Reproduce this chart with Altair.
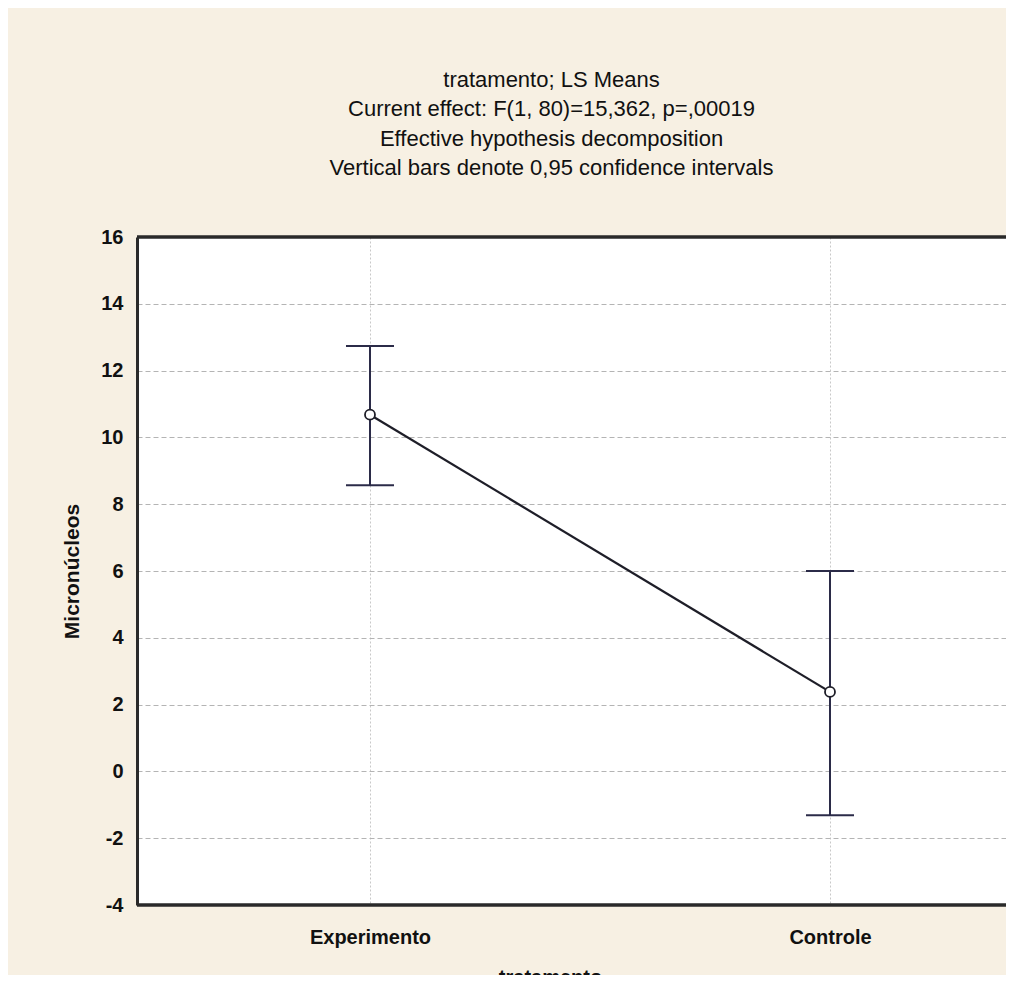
import altair as alt
import pandas as pd

categories = ["Experimento", "Controle"]
means = [10.68, 2.38]
ci_low = [8.57, -1.31]
ci_high = [12.74, 6.0]
y_ticks = [-4, -2, 0, 2, 4, 6, 8, 10, 12, 14, 16]
title_lines = [
    "tratamento; LS Means",
    "Current effect: F(1, 80)=15,362, p=,00019",
    "Effective hypothesis decomposition",
    "Vertical bars denote 0,95 confidence intervals",
]

df = pd.DataFrame({"tratamento": categories, "mean": means, "lo": ci_low, "hi": ci_high})

FONT = "Liberation Sans, Arial, sans-serif"
DARK = "#1e1e28"
BAR = "#2b2b48"

label_expr = "datum.value == 0 ? 'Experimento' : 'Controle'"

xscale = alt.Scale(domain=[-0.5065, 1.3826], nice=False, zero=False)
xenc = alt.X(
    "idx:Q",
    scale=xscale,
    axis=alt.Axis(
        title="tratamento",
        values=[0, 1],
        labelExpr=label_expr,
        labelAngle=0,
        domain=False,
        ticks=False,
        grid=True,
        gridColor="#c8c8c8",
        gridDash=[2, 2],
        labelFont=FONT,
        labelFontSize=20,
        labelFontWeight="bold",
        labelColor="#111",
        labelPadding=22,
        titleFont=FONT,
        titleFontSize=20,
        titleFontWeight="bold",
        titleColor="#111",
        titleX=413,
        titleY=62,
        titleBaseline="top",
    ),
)

yscale = alt.Scale(domain=[-4, 16], nice=False, zero=False)

yenc = alt.Y(
    "mean:Q",
    scale=yscale,
    axis=alt.Axis(
        values=y_ticks,
        labelExpr="'' + datum.value",
        title="Micronúcleos",
        domainWidth=3,
        domainColor="#2a2a2a",
        ticks=False,
        grid=True,
        gridDash=[5, 3],
        gridColor="#b4b4b4",
        labelFont=FONT,
        labelFontSize=20,
        labelFontWeight="bold",
        labelColor="#111",
        labelPadding=14,
        titleFont=FONT,
        titleFontSize=21,
        titleFontWeight="bold",
        titleColor="#111",
        titlePadding=18,
    ),
)

base = alt.Chart(df).transform_window(idx="row_number()").transform_calculate(idx="datum.idx - 1")

top_border = alt.Chart(df).mark_rule(color="#2a2a2a", strokeWidth=3).encode(y=alt.datum(16, scale=yscale))
bottom_border = alt.Chart(df).mark_rule(color="#2a2a2a", strokeWidth=3).encode(y=alt.datum(-4))

errbars = base.mark_rule(color=BAR, strokeWidth=2).encode(
    x=xenc, y=alt.Y("lo:Q", scale=yscale), y2="hi:Q"
)
cap_lo = base.mark_tick(color=BAR, thickness=2, size=48, opacity=1, orient="horizontal").encode(
    x=xenc, y=alt.Y("lo:Q", scale=yscale)
)
cap_hi = base.mark_tick(color=BAR, thickness=2, size=48, opacity=1, orient="horizontal").encode(
    x=xenc, y=alt.Y("hi:Q", scale=yscale)
)
line = base.mark_line(color=DARK, strokeWidth=2.2).encode(x=xenc, y=yenc)
points = base.mark_point(
    shape="circle", size=100, fill="white", fillOpacity=1, stroke=DARK, strokeWidth=1.8, opacity=1
).encode(x=xenc, y=yenc)

chart = (
    alt.layer(line, top_border, bottom_border, errbars, cap_lo, cap_hi, points)
    .properties(
        width=869,
        height=668,
        title=alt.TitleParams(
            title_lines,
            font=FONT,
            fontSize=22,
            fontWeight="normal",
            color="#111",
            lineHeight=29.5,
            offset=47,
            dx=-20,
            anchor="middle",
        ),
        padding={"left": 129, "top": 229, "right": 0, "bottom": 70},
        autosize=alt.AutoSizeParams(type="none"),
        background="#F7F0E3",
    )
    .configure_view(fill="white", stroke=None)
)

chart.save("out.html", embed_options={"renderer": "svg", "actions": False})
